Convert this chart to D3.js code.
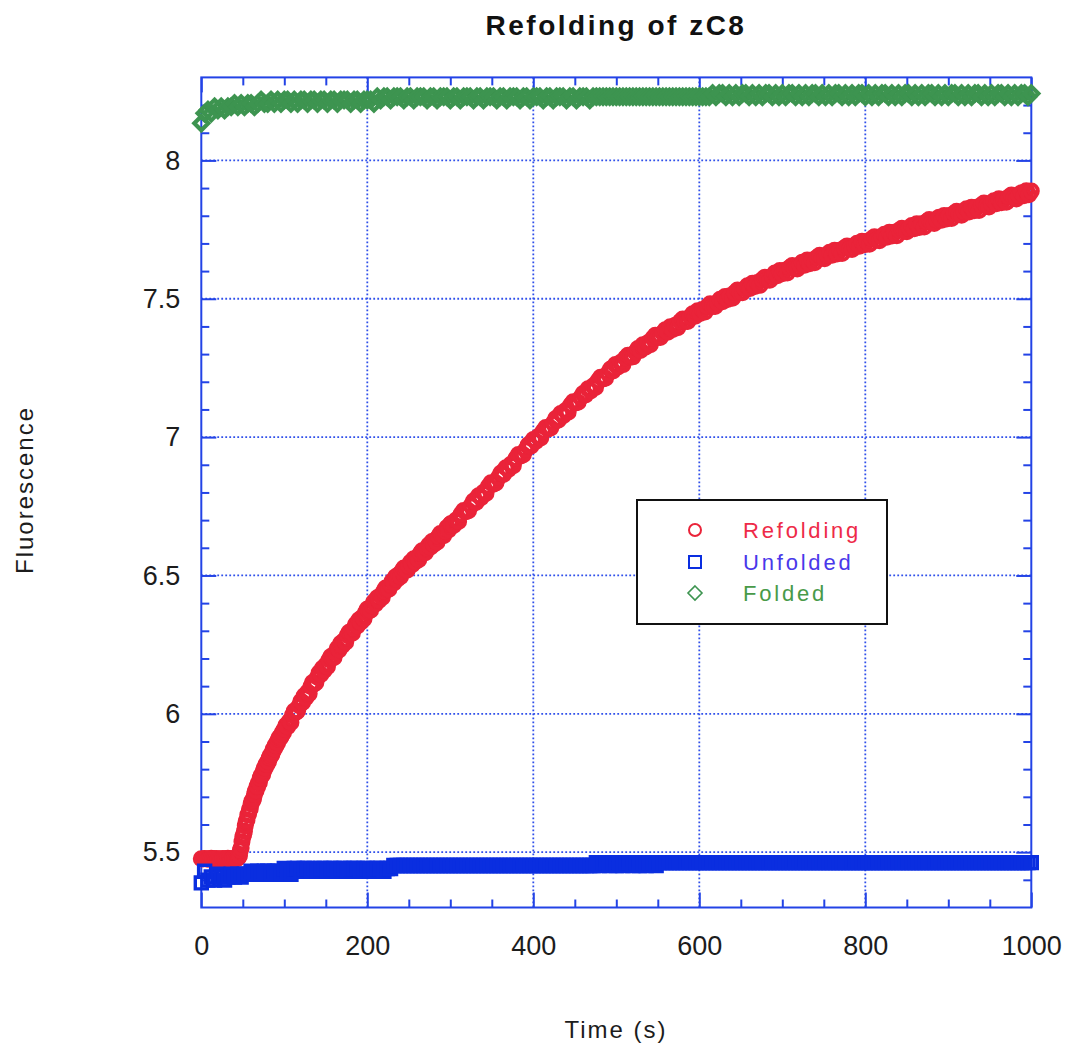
<!DOCTYPE html>
<html><head><meta charset="utf-8">
<script src="https://cdn.jsdelivr.net/npm/d3@7/dist/d3.min.js"></script>
<style>
body{margin:0;background:#fff}
svg{display:block}
text{font-family:"Liberation Sans",Arial,Helvetica,sans-serif}
</style>
</head><body>
<svg id="chart" width="1068" height="1051"></svg>
<script>
// ---------------- DATA ----------------
const chartTitle = "Refolding of zC8";
const xTitle = "Time (s)";
const yTitle = "Fluorescence";
const seriesNames = ["Refolding", "Unfolded", "Folded"];
const xDomain = [0, 1000];
const yDomain = [5.3, 8.3];
const xMajorTicks = [0, 200, 400, 600, 800, 1000];
const xTickLabels = ["0", "200", "400", "600", "800", "1000"];
const yMajorTicks = [5.5, 6, 6.5, 7, 7.5, 8];
const yTickLabels = ["5.5", "6", "6.5", "7", "7.5", "8"];

// sampling instants (s) of the recorded traces
const refoldingTimesA = d3.range(0, 45, 2);
const refoldingTimesB = d3.range(45, 101, 1);
const refoldingTimesC = d3.range(102, 301, 2);
const refoldingTimesD = d3.range(301, 1001, 3);
const controlTimes = d3.range(0, 1001, 4);

// Refolding trace (fluorescence)
const refoldingA = [5.476,5.475,5.477,5.476,5.474,5.476,5.478,5.476,5.475,5.477,5.476,5.474,5.476,5.477,5.475,5.476,5.478,5.476,5.474,5.477,5.476,5.475,5.478];
const refoldingB = [
5.484,5.487,5.507,5.515,5.538,5.555,5.563,5.576,5.595,5.611,
5.616,5.634,5.638,5.654,5.657,5.674,5.685,5.687,5.694,5.708,
5.720,5.722,5.737,5.738,5.751,5.752,5.768,5.777,5.777,5.782,
5.794,5.804,5.804,5.818,5.817,5.828,5.827,5.841,5.849,5.848,
5.854,5.865,5.874,5.873,5.886,5.885,5.896,5.895,5.908,5.915,
5.913,5.916,5.926,5.934,5.932,5.944];
const refoldingC = [
5.959,5.953,5.973,5.969,5.996,6.010,6.005,6.010,6.029,6.045,
6.041,6.065,6.058,6.078,6.073,6.099,6.113,6.108,6.112,6.132,
6.148,6.142,6.165,6.157,6.176,6.170,6.195,6.207,6.201,6.204,
6.222,6.237,6.231,6.255,6.247,6.265,6.259,6.284,6.295,6.289,
6.291,6.309,6.324,6.317,6.340,6.331,6.349,6.343,6.367,6.379,
6.372,6.374,6.391,6.405,6.397,6.419,6.410,6.427,6.420,6.444,
6.455,6.448,6.450,6.467,6.480,6.473,6.495,6.486,6.503,6.495,
6.517,6.527,6.519,6.519,6.535,6.548,6.539,6.560,6.550,6.565,
6.557,6.580,6.589,6.581,6.582,6.598,6.610,6.602,6.623,6.612,
6.628,6.620,6.642,6.652,6.644,6.644,6.660,6.673,6.664,6.685];
const refoldingD = [
6.688,6.681,6.700,6.695,6.722,6.735,6.730,6.734,6.753,6.769,
6.764,6.788,6.781,6.801,6.796,6.822,6.835,6.830,6.834,6.854,
6.870,6.865,6.889,6.883,6.902,6.897,6.923,6.937,6.932,6.936,
6.955,6.972,6.967,6.991,6.984,7.002,6.997,7.022,7.035,7.029,
7.033,7.051,7.067,7.061,7.085,7.077,7.096,7.090,7.116,7.128,
7.123,7.126,7.143,7.158,7.152,7.175,7.167,7.185,7.179,7.204,
7.216,7.210,7.213,7.231,7.246,7.239,7.262,7.253,7.270,7.262,
7.286,7.296,7.289,7.290,7.307,7.320,7.313,7.334,7.325,7.341,
7.334,7.357,7.368,7.360,7.360,7.376,7.388,7.379,7.399,7.389,
7.404,7.395,7.418,7.427,7.418,7.418,7.434,7.446,7.437,7.457,
7.447,7.461,7.452,7.473,7.482,7.472,7.472,7.486,7.498,7.489,
7.508,7.497,7.511,7.502,7.523,7.532,7.522,7.522,7.536,7.547,
7.537,7.556,7.544,7.559,7.549,7.570,7.578,7.568,7.567,7.581,
7.593,7.583,7.602,7.590,7.603,7.593,7.613,7.620,7.610,7.608,
7.622,7.632,7.621,7.640,7.627,7.640,7.630,7.650,7.657,7.647,
7.645,7.658,7.668,7.657,7.675,7.662,7.675,7.664,7.684,7.691,
7.680,7.678,7.691,7.701,7.690,7.708,7.695,7.708,7.697,7.717,
7.724,7.712,7.710,7.723,7.733,7.722,7.740,7.727,7.740,7.728,
7.748,7.755,7.744,7.742,7.755,7.765,7.753,7.771,7.758,7.771,
7.759,7.779,7.786,7.775,7.772,7.785,7.795,7.784,7.801,7.788,
7.801,7.790,7.809,7.816,7.805,7.802,7.815,7.825,7.814,7.831,
7.818,7.831,7.819,7.839,7.846,7.834,7.832,7.845,7.854,7.843,
7.861,7.847,7.860,7.849,7.868,7.875,7.864,7.861,7.874,7.883,
7.872,7.890,7.876,7.889];

// Unfolded control (every 4 s)
const unfolded = [
5.389,5.431,5.399,5.410,5.399,5.420,5.410,5.399,5.410,5.420,5.410,5.420,5.410,5.420,
5.420,5.431,5.420,5.431,5.420,5.431,5.431,5.420,5.431,5.431,5.420,5.441,5.431,5.420,5.441,
5.441,5.431,5.441,5.441,5.431,5.441,5.431,5.441,5.441,5.431,5.441,5.441,5.431,5.441,5.441,
5.431,5.441,5.441,5.441,5.431,5.441,5.441,5.431,5.441,5.441,5.441,5.431,5.441,5.441,
5.452,5.452,5.452,5.452,5.452,5.452,5.452,5.452,5.452,5.452,
5.452,5.452,5.452,5.452,5.452,5.452,5.452,5.452,5.452,5.452,
5.452,5.452,5.452,5.452,5.452,5.452,5.452,5.452,5.452,5.452,
5.452,5.452,5.452,5.452,5.452,5.452,5.452,5.452,5.452,5.452,
5.452,5.452,5.452,5.452,5.452,5.452,5.452,5.452,5.452,5.452,
5.452,5.452,5.452,5.452,5.452,5.452,5.452,5.452,5.452,5.452,
5.452,5.462,5.452,5.462,5.462,5.452,5.462,5.452,5.462,5.452,5.462,
5.462,5.452,5.462,5.452,5.462,5.452,5.462,5.462,5.452,5.462,
5.462,5.462,5.462,5.462,5.462,5.462,5.462,5.462,5.462,5.462,
5.462,5.462,5.462,5.462,5.462,5.462,5.462,5.462,5.462,5.462,
5.462,5.462,5.462,5.462,5.462,5.462,5.462,5.462,5.462,5.462,
5.462,5.462,5.462,5.462,5.462,5.462,5.462,5.462,5.462,5.462,
5.462,5.462,5.462,5.462,5.462,5.462,5.462,5.462,5.462,5.462,
5.462,5.462,5.462,5.462,5.462,5.462,5.462,5.462,5.462,5.462,
5.462,5.462,5.462,5.462,5.462,5.462,5.462,5.462,5.462,5.462,
5.462,5.462,5.462,5.462,5.462,5.462,5.462,5.462,5.462,5.462,
5.462,5.462,5.462,5.462,5.462,5.462,5.462,5.462,5.462,5.462,
5.462,5.462,5.462,5.462,5.462,5.462,5.462,5.462,5.462,5.462,
5.462,5.462,5.462,5.462,5.462,5.462,5.462,5.462,5.462,5.462,
5.462,5.462];

// Folded control (every 4 s)
const folded = [
8.134,8.170,8.182,8.170,8.194,8.182,8.194,8.182,8.194,8.194,
8.206,8.194,8.206,8.194,8.206,8.206,8.194,8.206,
8.218,8.206,8.206,8.218,8.206,8.218,8.206,8.218,8.218,8.206,8.218,8.206,8.218,
8.218,8.206,8.218,8.218,8.206,8.218,8.218,8.206,8.218,8.218,8.206,8.218,8.218,8.218,8.206,8.218,8.218,8.206,8.218,8.218,8.218,8.206,
8.230,8.218,8.230,8.230,8.218,8.230,8.230, 8.230,8.218,8.230,8.230,8.218,8.230,8.230,
8.230,8.218,8.230,8.230,8.218,8.230,8.230, 8.230,8.218,8.230,8.230,8.218,8.230,8.230,
8.230,8.218,8.230,8.230,8.218,8.230,8.230, 8.230,8.218,8.230,8.230,8.218,8.230,8.230,
8.230,8.218,8.230,8.230,8.218,8.230,8.230, 8.230,8.218,8.230,8.230,8.218,8.230,8.230,
8.230,8.218,8.230,8.230,8.218,8.230,8.230, 8.230,8.218,8.230,8.230,
8.230,8.230,8.230,8.230,8.230,8.230,8.230,8.230,8.230,8.230,
8.230,8.230,8.230,8.230,8.230,8.230,8.230,8.230,8.230,8.230,
8.230,8.230,8.230,8.230,8.230,8.230,8.230,8.230,8.230,8.230,
8.230,8.230,8.230,8.230,
8.242,8.230,8.242,8.242,8.230,8.242,8.230, 8.242,8.230,8.242,8.242,8.230,8.242,8.230,
8.242,8.230,8.242,8.242,8.230,8.242,8.230, 8.242,8.230,8.242,8.242,8.230,8.242,8.230,
8.242,8.230,8.242,8.242,8.230,8.242,8.230, 8.242,8.230,8.242,8.242,8.230,8.242,8.230,
8.242,8.230,8.242,8.242,8.230,8.242,8.230, 8.242,8.230,8.242,8.242,8.230,8.242,8.230,
8.242,8.230,8.242,8.242,8.230,8.242,8.230, 8.242,8.230,8.242,8.242,8.230,8.242,8.230,
8.242,8.230,8.242,8.242,8.230,8.242,8.230, 8.242,8.230,8.242,8.242,8.230,8.242,8.230,
8.242,8.230,8.242,8.242,8.230,8.242,8.230,
8.242,8.230,8.242,8.242,8.230,8.242];

// ---------------- DRAWING ----------------
const pair = (ts, vs) => ts.slice(0, Math.min(ts.length, vs.length)).map((t, i) => ({t, v: vs[i]}));
const refoldingPts = [].concat(
  pair(refoldingTimesA, refoldingA), pair(refoldingTimesB, refoldingB),
  pair(refoldingTimesC, refoldingC), pair(refoldingTimesD, refoldingD));
const unfoldedPts = pair(controlTimes, unfolded);
const foldedPts = pair(controlTimes, folded);

const plot = {left: 201.3, right: 1031.3, top: 77.4, bottom: 907.5};
const x = d3.scaleLinear().domain(xDomain).range([plot.left, plot.right]);
const y = d3.scaleLinear().domain(yDomain).range([plot.bottom, plot.top]);

const axisColor = "#2343e6";
const gridColor = "#3050ea";
const colors = {Refolding: "#ea2339", Unfolded: "#0a2ee0", Folded: "#3d9450"};
const textColors = {Refolding: "#ee2a48", Unfolded: "#4a38ea", Folded: "#489a48"};

const svg = d3.select("#chart");
svg.append("rect").attr("width", 1068).attr("height", 1051).attr("fill", "#fff");

// grid
const grid = svg.append("g");
grid.selectAll("line.gx").data(xMajorTicks.filter(d => d > xDomain[0] && d < xDomain[1])).join("line")
  .attr("x1", d => x(d)).attr("x2", d => x(d)).attr("y1", plot.top).attr("y2", plot.bottom);
grid.selectAll("line.gy").data(yMajorTicks).join("line")
  .attr("y1", d => y(d)).attr("y2", d => y(d)).attr("x1", plot.left).attr("x2", plot.right);
grid.selectAll("line").attr("stroke", gridColor).attr("stroke-width", 1.8).attr("stroke-dasharray", "1.8,2.2");

// axes (ticks inward on all four sides)
const xMinor = d3.range(50, 1000, 50).filter(d => !xMajorTicks.includes(d));
const yMinor = d3.range(54, 83, 1).map(d => d / 10).filter(d => !yMajorTicks.some(m => Math.abs(m - d) < 1e-9));
function styleAxis(g) {
  g.select(".domain").remove();
  g.selectAll(".tick line").attr("stroke", axisColor).attr("stroke-width", 2);
  g.attr("font-size", 27).attr("font-family", '"Liberation Sans", Arial, sans-serif');
  g.selectAll("text").attr("fill", "#1c1c1c");
}
const minorLen = 8, majorLen = 15;
svg.append("g").attr("transform", `translate(0,${plot.bottom})`)
  .call(d3.axisBottom(x).tickValues(xMinor).tickSizeInner(-minorLen).tickSizeOuter(0).tickFormat("")).call(styleAxis);
svg.append("g").attr("transform", `translate(0,${plot.bottom})`)
  .call(d3.axisBottom(x).tickValues(xMajorTicks).tickSizeInner(-majorLen).tickSizeOuter(0).tickPadding(28)
    .tickFormat((d, i) => xTickLabels[i])).call(styleAxis);
svg.append("g").attr("transform", `translate(0,${plot.top})`)
  .call(d3.axisTop(x).tickValues(xMinor).tickSizeInner(-minorLen).tickSizeOuter(0).tickFormat("")).call(styleAxis);
svg.append("g").attr("transform", `translate(0,${plot.top})`)
  .call(d3.axisTop(x).tickValues(xMajorTicks).tickSizeInner(-majorLen).tickSizeOuter(0).tickFormat("")).call(styleAxis);
svg.append("g").attr("transform", `translate(${plot.left},0)`)
  .call(d3.axisLeft(y).tickValues(yMinor).tickSizeInner(-minorLen).tickSizeOuter(0).tickFormat("")).call(styleAxis);
svg.append("g").attr("transform", `translate(${plot.left},0)`)
  .call(d3.axisLeft(y).tickValues(yMajorTicks).tickSizeInner(-majorLen).tickSizeOuter(0).tickPadding(21)
    .tickFormat((d, i) => yTickLabels[i])).call(styleAxis);
svg.append("g").attr("transform", `translate(${plot.right},0)`)
  .call(d3.axisRight(y).tickValues(yMinor).tickSizeInner(-minorLen).tickSizeOuter(0).tickFormat("")).call(styleAxis);
svg.append("g").attr("transform", `translate(${plot.right},0)`)
  .call(d3.axisRight(y).tickValues(yMajorTicks).tickSizeInner(-majorLen).tickSizeOuter(0).tickFormat("")).call(styleAxis);

// frame
svg.append("rect").attr("x", plot.left).attr("y", plot.top)
  .attr("width", plot.right - plot.left).attr("height", plot.bottom - plot.top)
  .attr("fill", "none").attr("stroke", axisColor).attr("stroke-width", 2);

// symbols
const diamond = {draw(ctx, size) { const r = Math.sqrt(size / 2); ctx.moveTo(0, -r); ctx.lineTo(r, 0); ctx.lineTo(0, r); ctx.lineTo(-r, 0); ctx.closePath(); }};
const legendSymbols = {
  Refolding: {path: d3.symbol(d3.symbolCircle, Math.PI * 36)(), width: 2},
  Unfolded: {path: d3.symbol(d3.symbolSquare, 144)(), width: 2},
  Folded: {path: d3.symbol(diamond, 98)(), width: 1.6}
};
const plotSymbols = {
  Refolding: {path: d3.symbol(d3.symbolCircle, Math.PI * 43)(), width: 3.9},
  Unfolded: {path: d3.symbol(d3.symbolSquare, 144)(), width: 3.4},
  Folded: {path: d3.symbol(diamond, 98)(), width: 4.2}
};
function drawSeries(name, pts) {
  svg.append("g").selectAll("path").data(pts).join("path")
    .attr("d", plotSymbols[name].path)
    .attr("transform", d => `translate(${x(d.t)},${y(d.v)})`)
    .attr("fill", "none").attr("stroke", colors[name]).attr("stroke-width", plotSymbols[name].width);
}
drawSeries("Refolding", refoldingPts);
drawSeries("Unfolded", unfoldedPts);
drawSeries("Folded", foldedPts);

// legend
const lg = svg.append("g");
lg.append("rect").attr("x", 637).attr("y", 500).attr("width", 250).attr("height", 124)
  .attr("fill", "#fff").attr("stroke", "#111").attr("stroke-width", 2);
const legendRowY = [530, 562, 593];
seriesNames.forEach((name, i) => {
  lg.append("path").attr("d", legendSymbols[name].path)
    .attr("transform", `translate(695,${legendRowY[i]})`)
    .attr("fill", "#fff").attr("stroke", colors[name]).attr("stroke-width", legendSymbols[name].width);
  lg.append("text").attr("x", 743).attr("y", legendRowY[i] + 8)
    .attr("font-size", 22).attr("letter-spacing", 2.8).attr("fill", textColors[name]).text(name);
});

// titles
svg.append("text").attr("x", 616).attr("y", 35).attr("text-anchor", "middle")
  .attr("font-size", 28).attr("font-weight", "bold").attr("letter-spacing", 2.5).attr("fill", "#111").text(chartTitle);
svg.append("text").attr("x", 616).attr("y", 1038).attr("text-anchor", "middle")
  .attr("font-size", 24).attr("letter-spacing", 2).attr("fill", "#1c1c1c").text(xTitle);
svg.append("text").attr("transform", "translate(33,490) rotate(-90)").attr("text-anchor", "middle")
  .attr("font-size", 24).attr("letter-spacing", 2).attr("fill", "#1c1c1c").text(yTitle);
</script>
</body></html>
